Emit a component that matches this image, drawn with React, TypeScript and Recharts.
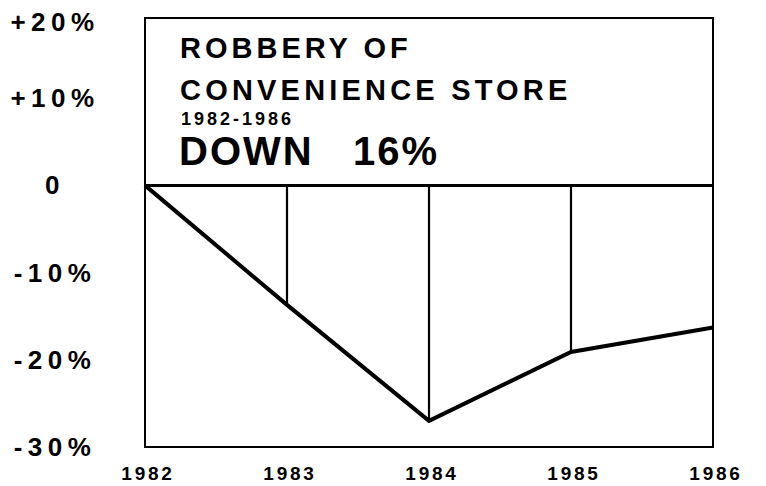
import { LineChart, Line, XAxis, YAxis, ReferenceLine, ReferenceArea } from 'recharts';

// Robbery of convenience stores, % change vs 1982

const years = [1982, 1983, 1984, 1985, 1986];
const changePct = [0, -13.7, -27, -19.1, -16.3];
const yTicks = [-30, -20, -10, 0, 10, 20];
const yTickLabels = ['-30%', '-20%', '-10%', '0', '+10%', '+20%'];
const frameTop = 19.2;

const data = years.map((year, i) => ({ year, change: changePct[i] }));

const FONT = '"Liberation Sans", Arial, Helvetica, sans-serif';

function YTick(props: any) {
  const { y, payload } = props;
  const idx = yTicks.indexOf(payload.value);
  const ty = Math.max(y, 22);
  return (
    <text
      x={55}
      y={ty}
      dy={9}
      textAnchor="middle"
      fill="#000"
      style={{ fontFamily: FONT, fontWeight: 700, fontSize: 26, letterSpacing: 5.5 }}
    >
      {yTickLabels[idx]}
    </text>
  );
}

function XTick(props: any) {
  const { x, y, payload } = props;
  return (
    <text
      x={x + 3}
      y={y}
      dy={25}
      textAnchor="middle"
      fill="#000"
      style={{ fontFamily: FONT, fontWeight: 700, fontSize: 19, letterSpacing: 2.8 }}
    >
      {payload.value}
    </text>
  );
}

export default function App() {
  const titleStyle = { fontFamily: FONT, fontWeight: 700, fill: '#000', whiteSpace: 'pre' } as const;
  return (
    <div style={{ position: 'absolute', left: 0, top: 0, width: 766, height: 486, background: '#fff' }}>
      <LineChart
        width={766}
        height={486}
        data={data}
        margin={{ top: 11, right: 53, left: 0, bottom: 9 }}
      >
        <XAxis
          dataKey="year"
          type="number"
          domain={[1982, 1986]}
          ticks={years}
          axisLine={false}
          tickLine={false}
          height={30}
          tick={<XTick />}
        />
        <YAxis
          type="number"
          domain={[-30, 20]}
          ticks={yTicks}
          axisLine={false}
          tickLine={false}
          width={145}
          tick={<YTick />}
        />
        <ReferenceArea
          x1={1982}
          x2={1986}
          y1={-30}
          y2={frameTop}
          fill="none"
          stroke="#000"
          strokeWidth={2}
          ifOverflow="visible"
        />
        <ReferenceLine y={0} stroke="#000" strokeWidth={3} />
        {years.slice(1, 4).map((yr, i) => (
          <ReferenceLine
            key={yr}
            segment={[{ x: yr, y: 0 }, { x: yr, y: changePct[i + 1] }]}
            stroke="#000"
            strokeWidth={2.2}
          />
        ))}
        <Line
          type="linear"
          dataKey="change"
          stroke="#000"
          strokeWidth={4}
          dot={false}
          isAnimationActive={false}
        />
      </LineChart>
      <svg
        width={766}
        height={486}
        style={{ position: 'absolute', left: 0, top: 0, pointerEvents: 'none' }}
      >
        <text x={180} y={58} style={{ ...titleStyle, fontSize: 29, letterSpacing: 4 }}>
          ROBBERY OF
        </text>
        <text x={180} y={100} style={{ ...titleStyle, fontSize: 29, letterSpacing: 4.2 }}>
          CONVENIENCE STORE
        </text>
        <text x={181} y={125} style={{ ...titleStyle, fontSize: 18, letterSpacing: 3 }}>
          1982-1986
        </text>
        <text x={179} y={165} style={{ ...titleStyle, fontSize: 40, letterSpacing: 2 }}>
          {'DOWN   16%'}
        </text>
      </svg>
    </div>
  );
}
